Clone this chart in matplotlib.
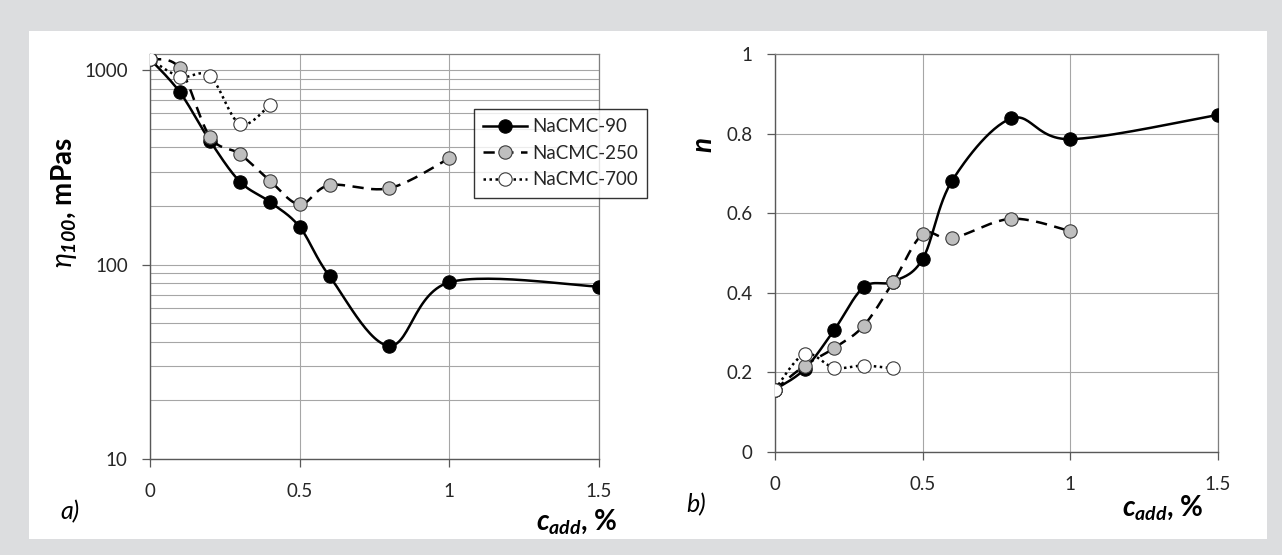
import numpy as np
import matplotlib
matplotlib.use("Agg")
import matplotlib.pyplot as plt
from matplotlib.patches import Rectangle
from matplotlib.ticker import FixedLocator, NullFormatter

plt.rcParams['font.family'] = ['Lato', 'DejaVu Sans']
plt.rcParams['mathtext.fontset'] = 'custom'
plt.rcParams['mathtext.rm'] = 'Lato'
plt.rcParams['mathtext.it'] = 'Lato:italic'
plt.rcParams['mathtext.bf'] = 'Lato:bold'
plt.rcParams['mathtext.bfit'] = 'Lato:italic:bold'

# additive concentration, %
c_90 = [0, 0.1, 0.2, 0.3, 0.4, 0.5, 0.6, 0.8, 1.0, 1.5]
c_250 = [0, 0.1, 0.2, 0.3, 0.4, 0.5, 0.6, 0.8, 1.0]
c_700 = [0, 0.1, 0.2, 0.3, 0.4]

# viscosity at 100 1/s, mPas
eta_90 = [1140, 768, 433, 267, 210, 156, 87, 38.2, 81, 77]
eta_250 = [1140, 1020, 454, 370, 270, 204, 256, 247, 352]
eta_700 = [1140, 924, 931, 528, 658]

# flow index n
n_90 = [0.157, 0.208, 0.306, 0.414, 0.428, 0.485, 0.682, 0.838, 0.786, 0.847]
n_250 = [0.157, 0.217, 0.261, 0.317, 0.427, 0.547, 0.537, 0.586, 0.555]
n_700 = [0.157, 0.246, 0.212, 0.217, 0.210]

labels = ['NaCMC-90', 'NaCMC-250', 'NaCMC-700']


def smooth(x, y, log=False, steps=30):
    # Catmull-Rom curve through the points, like the smoothed lines in Excel
    x = np.asarray(x, float)
    y = np.log10(y) if log else np.asarray(y, float)
    px = np.concatenate([[x[0]], x, [x[-1]]])
    py = np.concatenate([[y[0]], y, [y[-1]]])
    t = np.linspace(0, 1, steps)
    xs, ys = [], []
    for i in range(1, len(px) - 2):
        for p, out in ((px, xs), (py, ys)):
            p0, p1, p2, p3 = p[i - 1], p[i], p[i + 1], p[i + 2]
            c1 = p1 + (p2 - p0) / 6
            c2 = p2 - (p3 - p1) / 6
            out.extend((1 - t) ** 3 * p1 + 3 * (1 - t) ** 2 * t * c1
                       + 3 * (1 - t) * t ** 2 * c2 + t ** 3 * p2)
    ys = np.array(ys)
    return np.array(xs), (10 ** ys if log else ys)


MS = 9.6
styles = [
    dict(color='black', lw=1.8, ls='-', mfc='black', mec='black'),
    dict(color='black', lw=1.8, ls=(0, (4.5, 3)), mfc='#bfbfbf', mec='#3a3a3a'),
    dict(color='black', lw=1.8, ls=(0, (1, 1.4)), mfc='white', mec='#3a3a3a'),
]

fig = plt.figure(figsize=(12.82, 5.55), dpi=100)
fig.patch.set_facecolor('#dcdddf')
panel = Rectangle((29 / 1282, 16 / 555), 1238 / 1282, 508 / 555,
                  transform=fig.transFigure, facecolor='white', edgecolor='none')
panel.set_zorder(-10)
fig.add_artist(panel)

ax1 = fig.add_axes([150 / 1282, 96 / 555, 449 / 1282, 405 / 555])
ax2 = fig.add_axes([775 / 1282, 103 / 555, 443 / 1282, 398 / 555])

handles = []
for cs, vals, st, lab in zip([c_90, c_250, c_700], [eta_90, eta_250, eta_700], styles, labels):
    sx, sy = smooth(cs, vals, log=True)
    ax1.plot(sx, sy, color=st['color'], lw=st['lw'], ls=st['ls'], zorder=3)
    ax1.plot(cs, vals, 'o', ms=MS, mfc=st['mfc'], mec=st['mec'], mew=0.8, zorder=4)
    h, = ax1.plot([], [], color=st['color'], lw=st['lw'], ls=st['ls'], marker='o',
                  ms=MS, mfc=st['mfc'], mec=st['mec'], mew=0.8)
    handles.append(h)

for cs, vals, st in zip([c_90, c_250, c_700], [n_90, n_250, n_700], styles):
    sx, sy = smooth(cs, vals)
    ax2.plot(sx, sy, color=st['color'], lw=st['lw'], ls=st['ls'], zorder=3)
    ax2.plot(cs, vals, 'o', ms=MS, mfc=st['mfc'], mec=st['mec'], mew=0.8, zorder=4)

ax1.set_yscale('log')
ax1.set_ylim(10, 1209)
ax1.set_yticks([10, 100, 1000])
ax1.set_yticklabels(['10', '100', '1000'])
ax1.yaxis.set_minor_locator(FixedLocator([k * 10 ** e for e in (1, 2) for k in range(2, 10)] + [1000]))
ax1.yaxis.set_minor_formatter(NullFormatter())
ax1.tick_params(axis='y', which='minor', length=0)

ax2.set_ylim(0, 1)
ax2.set_yticks([0, 0.2, 0.4, 0.6, 0.8, 1])
ax2.set_yticklabels(['0', '0.2', '0.4', '0.6', '0.8', '1'])

for ax in (ax1, ax2):
    ax.set_xlim(0, 1.5)
    ax.set_xticks([0, 0.5, 1, 1.5])
    ax.set_xticklabels(['0', '0.5', '1', '1.5'])
    ax.grid(True, which='major', color='#a6a6a6', lw=0.8)
    ax.set_axisbelow(True)
    ax.tick_params(which='major', direction='out', length=6, width=0.9, color='#595959',
                   labelsize=13.5, labelcolor='#262626')
    ax.tick_params(axis='y', pad=10)
    ax.tick_params(axis='x', pad=11)
    for side in ('left', 'bottom'):
        ax.spines[side].set_color('#595959')
        ax.spines[side].set_linewidth(1.0)
    for side in ('top', 'right'):
        ax.spines[side].set_color('#7f7f7f')
        ax.spines[side].set_linewidth(0.9)
    ax.patch.set_alpha(0)
ax1.grid(True, which='minor', axis='y', color='#a6a6a6', lw=0.8)

fig.text(64 / 1282, 1 - 203 / 555, r'$\eta_{\mathbfit{100}}$, mPas', rotation=90,
         fontsize=20, fontweight='bold', ha='center', va='center')
fig.text(703 / 1282, 1 - 145 / 555, 'n', rotation=90, fontsize=20, fontweight='bold',
         style='italic', ha='center', va='center')
fig.text(577 / 1282, 1 - 522 / 555, r'$\mathbfit{c}_{\mathbfit{add}}$, %', fontsize=20,
         fontweight='bold', ha='center', va='center')
fig.text(1163 / 1282, 1 - 508 / 555, r'$\mathbfit{c}_{\mathbfit{add}}$, %', fontsize=20,
         fontweight='bold', ha='center', va='center')
fig.text(60 / 1282, 1 - 512 / 555, 'a)', fontsize=18, style='italic', ha='left', va='center')
fig.text(686 / 1282, 1 - 505 / 555, 'b)', fontsize=18, style='italic', ha='left', va='center')

leg = fig.legend(handles, labels, loc='upper left', bbox_to_anchor=(474 / 1282, 1 - 109 / 555),
                 fontsize=13.5, frameon=True, fancybox=False, edgecolor='black',
                 handlelength=2.3, handletextpad=0.3, labelspacing=0.5, borderpad=0.5,
                 borderaxespad=0, numpoints=1)
leg.get_frame().set_linewidth(1.0)
for t in leg.get_texts():
    t.set_color('#262626')

fig.savefig('out.png', dpi=100, facecolor=fig.get_facecolor())
